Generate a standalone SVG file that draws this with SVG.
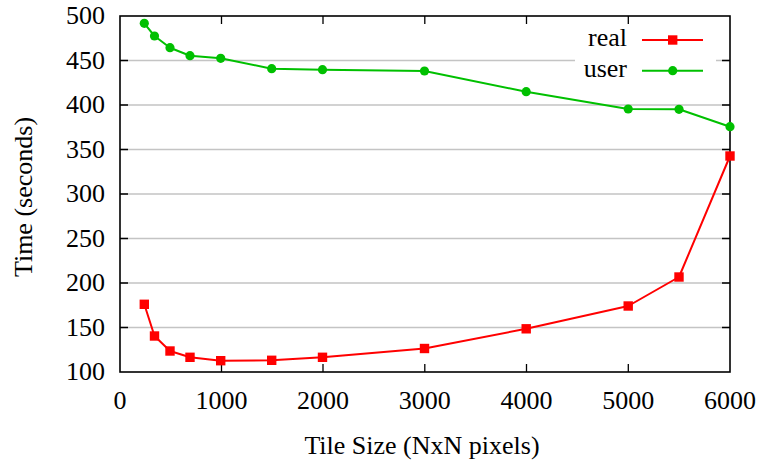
<svg xmlns="http://www.w3.org/2000/svg" width="761" height="463" viewBox="0 0 761 463">
<style>
text{font-family:'Liberation Serif','Tinos','Nimbus Roman','Times New Roman','DejaVu Serif',serif;font-size:26px;fill:#000}
.grid{stroke:#c4c4c4;stroke-width:1.5;fill:none}
.tick{stroke:#000;stroke-width:1.3;fill:none}
.border{stroke:#000;stroke-width:1.6;fill:none}
.real{stroke:#ff0000;stroke-width:2;fill:none;stroke-linejoin:round}
.user{stroke:#00c000;stroke-width:2;fill:none;stroke-linejoin:round}
.yl{text-anchor:end}
.xl{text-anchor:middle}
</style>
<defs>
<rect id="sq" x="-4.7" y="-4.7" width="9.4" height="9.4" fill="#ff0000"/>
<circle id="ci" r="4.6" fill="#00c000"/>
</defs>
<rect width="761" height="463" fill="#fff"/>
<g id="grid">
<path class="grid" d="M120 327.5H730M120 283H730M120 238.5H730M120 194H730M120 149.5H730M120 105H730M120 60.5H575M716 60.5H730"/>
</g>
<g id="ticks">
<path class="tick" d="M120 327.5h8M120 283h8M120 238.5h8M120 194h8M120 149.5h8M120 105h8M120 60.5h8M730 327.5h-8M730 283h-8M730 238.5h-8M730 194h-8M730 149.5h-8M730 105h-8M730 60.5h-8"/>
<path class="tick" d="M221.5 372v-8M323 372v-8M424.8 372v-8M526.5 372v-8M628.3 372v-8M221.5 16v8M323 16v8M424.8 16v8M526.5 16v8M628.3 16v8"/>
</g>
<g id="axes">
<rect class="border" x="120" y="16" width="610" height="356"/>
</g>
<g id="ylabels" font-family="Liberation Serif, serif">
<text class="yl" x="105" y="380">100</text>
<text class="yl" x="105" y="335.5">150</text>
<text class="yl" x="105" y="291">200</text>
<text class="yl" x="105" y="246.5">250</text>
<text class="yl" x="105" y="202">300</text>
<text class="yl" x="105" y="157.5">350</text>
<text class="yl" x="105" y="113">400</text>
<text class="yl" x="105" y="68.5">450</text>
<text class="yl" x="105" y="24">500</text>
</g>
<g id="xlabels">
<text class="xl" x="120" y="409">0</text>
<text class="xl" x="221.5" y="409">1000</text>
<text class="xl" x="323" y="409">2000</text>
<text class="xl" x="424.8" y="409">3000</text>
<text class="xl" x="526.5" y="409">4000</text>
<text class="xl" x="628.3" y="409">5000</text>
<text class="xl" x="730" y="409">6000</text>
</g>
<g id="titles">
<text class="xl" x="422" y="454">Tile Size (NxN pixels)</text>
<text class="xl" transform="translate(32 197) rotate(-90)">Time (seconds)</text>
</g>
<g id="connectors">
<polyline id="real-line" class="real" points="144.3,304.3 154.5,336 170,351 190,357.3 220.7,360.7 271.7,360.3 322.5,357.3 424.5,348.5 526.2,328.8 628.2,306 679,277 730,156"/>
<polyline id="user-line" class="user" points="144.3,23.3 154.5,36 170,47.7 190,55.7 220.7,58.3 271.7,68.7 322.5,69.7 424.5,71 526.2,91.7 628.2,109 679,109.3 730,126.7"/>
<path class="real" d="M642 40H703"/>
<path class="user" d="M642 70.7H703"/>
</g>
<g id="real-points">
<use href="#sq" x="144.3" y="304.3"/><use href="#sq" x="154.5" y="336"/><use href="#sq" x="170" y="351"/><use href="#sq" x="190" y="357.3"/><use href="#sq" x="220.7" y="360.7"/><use href="#sq" x="271.7" y="360.3"/><use href="#sq" x="322.5" y="357.3"/><use href="#sq" x="424.5" y="348.5"/><use href="#sq" x="526.2" y="328.8"/><use href="#sq" x="628.2" y="306"/><use href="#sq" x="679" y="277"/><use href="#sq" x="730" y="156"/>
</g>
<g id="user-points">
<use href="#ci" x="144.3" y="23.3"/><use href="#ci" x="154.5" y="36"/><use href="#ci" x="170" y="47.7"/><use href="#ci" x="190" y="55.7"/><use href="#ci" x="220.7" y="58.3"/><use href="#ci" x="271.7" y="68.7"/><use href="#ci" x="322.5" y="69.7"/><use href="#ci" x="424.5" y="71"/><use href="#ci" x="526.2" y="91.7"/><use href="#ci" x="628.2" y="109"/><use href="#ci" x="679" y="109.3"/><use href="#ci" x="730" y="126.7"/>
</g>
<g id="legend">
<text class="yl" x="627" y="46">real</text>
<use href="#sq" x="672.7" y="40"/>
<text class="yl" x="627" y="77">user</text>
<use href="#ci" x="672.7" y="70.7"/>
</g>
</svg>
